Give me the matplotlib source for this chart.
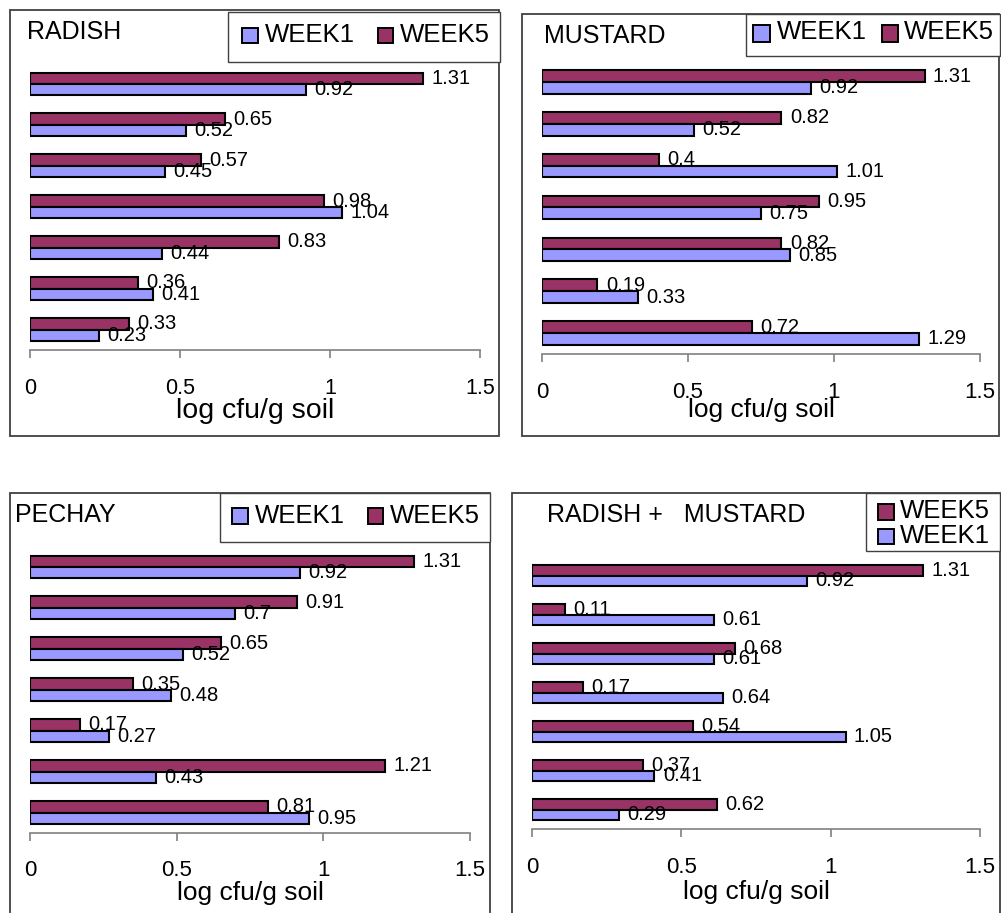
import matplotlib.pyplot as plt
from matplotlib.patches import Rectangle
import numpy as np

plt.rcParams['font.family'] = ['Liberation Sans', 'DejaVu Sans']

# log cfu/g soil, rows listed top to bottom
radish_week1 = [0.92, 0.52, 0.45, 1.04, 0.44, 0.41, 0.23]
radish_week5 = [1.31, 0.65, 0.57, 0.98, 0.83, 0.36, 0.33]
mustard_week1 = [0.92, 0.52, 1.01, 0.75, 0.85, 0.33, 1.29]
mustard_week5 = [1.31, 0.82, 0.40, 0.95, 0.82, 0.19, 0.72]
pechay_week1 = [0.92, 0.70, 0.52, 0.48, 0.27, 0.43, 0.95]
pechay_week5 = [1.31, 0.91, 0.65, 0.35, 0.17, 1.21, 0.81]
combo_week1 = [0.92, 0.61, 0.61, 0.64, 1.05, 0.41, 0.29]
combo_week5 = [1.31, 0.11, 0.68, 0.17, 0.54, 0.37, 0.62]

x_ticks = [0, 0.5, 1, 1.5]
x_tick_labels = ['0', '0.5', '1', '1.5']
xlabel = 'log cfu/g soil'

WEEK1_COLOR = '#9999FF'
WEEK5_COLOR = '#993366'
W, H = 1001, 913


def fx(x):
    return x / W


def fy(y):
    return 1 - y / H


def box(fig, x0, y0, x1, y1, **kw):
    rect = Rectangle((fx(x0), fy(y1)), (x1 - x0) / W, (y1 - y0) / H,
                     transform=fig.transFigure, **kw)
    fig.add_artist(rect)


def draw_key(fig, key_box, entries):
    box(fig, *key_box, facecolor='white', edgecolor='#404040', lw=1.0)
    for label, color, sq, tx in entries:
        box(fig, *sq, facecolor=color, edgecolor='black', lw=1.4)
        fig.text(fx(tx[0]), fy(tx[1]), label, ha='left', va='baseline', fontsize=18.5)


def draw_panel(fig, p, week1, week5):
    box(fig, *p['frame'], fill=False, edgecolor='#404040', lw=1.3)

    x0, y0, x1, y1 = p['plot']
    ax = fig.add_axes([fx(x0), fy(y1), (x1 - x0) / W, (y1 - y0) / H])
    ax.patch.set_alpha(0)
    rows = np.arange(len(week1))
    h = 0.28
    ax.barh(rows - h / 2, week5, height=h, color=WEEK5_COLOR, edgecolor='black', lw=1.5)
    ax.barh(rows + h / 2, week1, height=h, color=WEEK1_COLOR, edgecolor='black', lw=1.5)
    for i in rows:
        for v, y in ((week5[i], i - h / 2), (week1[i], i + h / 2)):
            ax.annotate('{:g}'.format(v), xy=(v, y), xytext=(6, 0),
                        textcoords='offset points', ha='left', va='center', fontsize=14.5)

    ax.set_xlim(0, 1.5)
    ax.set_ylim(len(week1) - 0.5, -0.5)
    for s in ('left', 'right', 'top'):
        ax.spines[s].set_visible(False)
    ax.spines['bottom'].set_color('#808080')
    ax.spines['bottom'].set_linewidth(1.2)
    ax.set_yticks([])
    ax.set_xticks(x_ticks)
    ax.tick_params(axis='x', direction='out', length=5.8, width=1.2,
                   color='#808080', labelbottom=False)
    for t, lab in zip(x_ticks, x_tick_labels):
        ax.annotate(lab, xy=(t, 0), xycoords=('data', 'axes fraction'),
                    xytext=(0, -(p['tick_y'] - y1) * 0.72), textcoords='offset points',
                    ha='center', va='center', fontsize=p['tick_size'])

    fig.text(fx((x0 + x1) / 2), fy(p['xlabel_y']), xlabel, ha='center', va='center',
             fontsize=p['xlabel_size'])
    fig.text(fx(p['title_xy'][0]), fy(p['title_xy'][1]), p['title'], ha='left',
             va='baseline', fontsize=18)
    draw_key(fig, p['key_box'], p['key'])


fig = plt.figure(figsize=(W / 100, H / 100), dpi=100)

radish = dict(
    frame=(10, 10, 499, 436), plot=(30, 63.5, 480, 350),
    title='RADISH', title_xy=(27, 39),
    tick_y=388, tick_size=15.5, xlabel_y=411, xlabel_size=20.5,
    key_box=(228, 12, 500, 62),
    key=[('WEEK1', WEEK1_COLOR, (242, 28, 258, 43), (265, 42)),
         ('WEEK5', WEEK5_COLOR, (378, 28, 393, 43), (400, 42))])

mustard = dict(
    frame=(522, 14, 999, 436), plot=(542, 61, 980, 354),
    title='MUSTARD', title_xy=(544, 43),
    tick_y=392, tick_size=16, xlabel_y=410, xlabel_size=19,
    key_box=(746, 14, 1000, 56),
    key=[('WEEK1', WEEK1_COLOR, (753, 25, 770, 42), (777, 39)),
         ('WEEK5', WEEK5_COLOR, (882, 25, 898, 42), (904, 39))])

pechay = dict(
    frame=(10, 493, 490, 925), plot=(30, 546.5, 470, 833),
    title='PECHAY', title_xy=(15, 522),
    tick_y=870, tick_size=16, xlabel_y=893, xlabel_size=19,
    key_box=(220, 493, 490, 542),
    key=[('WEEK1', WEEK1_COLOR, (232, 508, 248, 524), (255, 523)),
         ('WEEK5', WEEK5_COLOR, (368, 508, 383, 524), (390, 523))])

combo = dict(
    frame=(512, 493, 999.5, 925), plot=(532, 556, 980, 829),
    title='RADISH +   MUSTARD', title_xy=(547, 522),
    tick_y=867, tick_size=16, xlabel_y=892, xlabel_size=19,
    key_box=(866, 493, 1000, 551),
    key=[('WEEK5', WEEK5_COLOR, (878, 504, 894, 520), (900, 518)),
         ('WEEK1', WEEK1_COLOR, (878, 529, 894, 544), (900, 543))])

draw_panel(fig, radish, radish_week1, radish_week5)
draw_panel(fig, mustard, mustard_week1, mustard_week5)
draw_panel(fig, pechay, pechay_week1, pechay_week5)
draw_panel(fig, combo, combo_week1, combo_week5)

fig.savefig('out.png', dpi=100, facecolor='white')
